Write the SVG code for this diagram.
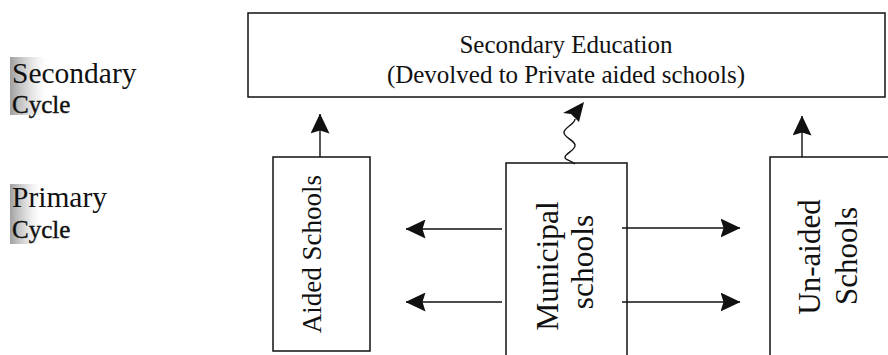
<svg xmlns="http://www.w3.org/2000/svg" width="888" height="355" viewBox="0 0 888 355">
<style>
.box{fill:#fff;stroke:#111;stroke-width:1.5}
.t{font-family:"Liberation Serif","Times New Roman",serif;fill:#111}
.ln{stroke:#111;stroke-width:1.4;fill:none}
</style>
<defs>
<marker id="ah" viewBox="0 0 20 19" refX="19.5" refY="9.5" markerWidth="20" markerHeight="19" markerUnits="userSpaceOnUse" orient="auto">
<path d="M0,0 L20,9.5 L0,19 L3,9.5 Z" fill="#111"/>
</marker>
<linearGradient id="sh" x1="0" y1="0" x2="1" y2="0">
<stop offset="0" stop-color="#8f8f8f" stop-opacity="0.85"/>
<stop offset="0.45" stop-color="#aaa" stop-opacity="0.5"/>
<stop offset="1" stop-color="#ccc" stop-opacity="0"/>
</linearGradient>
</defs>
<rect width="888" height="355" fill="#fff"/>
<g id="labels">
<rect x="10" y="57" width="36" height="58" fill="url(#sh)"/>
<rect x="10" y="184" width="30" height="60" fill="url(#sh)"/>
<text class="t" x="12" y="83" font-size="29.5">Secondary</text>
<text class="t" x="12" y="113" font-size="25" stroke="#111" stroke-width="0.4">Cycle</text>
<text class="t" x="12" y="207" font-size="29.5">Primary</text>
<text class="t" x="12" y="238" font-size="25" stroke="#111" stroke-width="0.4">Cycle</text>
</g>
<g id="secondary-education">
<rect class="box" x="248" y="13" width="637" height="84"/>
<text class="t" x="566" y="53" font-size="25" text-anchor="middle">Secondary Education</text>
<text class="t" x="566" y="83" font-size="25" text-anchor="middle">(Devolved to Private aided schools)</text>
</g>
<g id="aided-schools">
<rect class="box" x="273" y="157" width="97" height="194"/>
<text class="t" font-size="27" text-anchor="middle" transform="translate(321,254) rotate(-90)">Aided Schools</text>
</g>
<g id="municipal-schools">
<rect class="box" x="506" y="163" width="121" height="200"/>
<text class="t" font-size="31.5" text-anchor="middle" transform="translate(558,266) rotate(-90)">Municipal</text>
<text class="t" font-size="31.5" text-anchor="middle" transform="translate(593,262) rotate(-90)">schools</text>
</g>
<g id="unaided-schools">
<rect class="box" x="770" y="157" width="130" height="207"/>
<text class="t" font-size="31" text-anchor="middle" transform="translate(820,257) rotate(-90)">Un-aided</text>
<text class="t" font-size="31" text-anchor="middle" transform="translate(857,256) rotate(-90)">Schools</text>
</g>
<g id="connectors">
<line class="ln" x1="320" y1="157" x2="320" y2="114" marker-end="url(#ah)"/>
<line class="ln" x1="802" y1="157" x2="802" y2="116" marker-end="url(#ah)"/>
<path class="ln" stroke-width="1.8" d="M575,164 C571,160 564,160 565,157 C566,153 576,150 575,145 C574,140 563,137 564,132 C565,127 575,124 575,119"/>
<path d="M584,102 L563,113 L571,114 L579,122 Z" fill="#111"/>
<line class="ln" x1="502" y1="229" x2="406" y2="229" marker-end="url(#ah)"/>
<line class="ln" x1="502" y1="302" x2="406" y2="302" marker-end="url(#ah)"/>
<line class="ln" x1="622" y1="228" x2="740" y2="228" marker-end="url(#ah)"/>
<line class="ln" x1="622" y1="302" x2="740" y2="302" marker-end="url(#ah)"/>
</g>
</svg>
